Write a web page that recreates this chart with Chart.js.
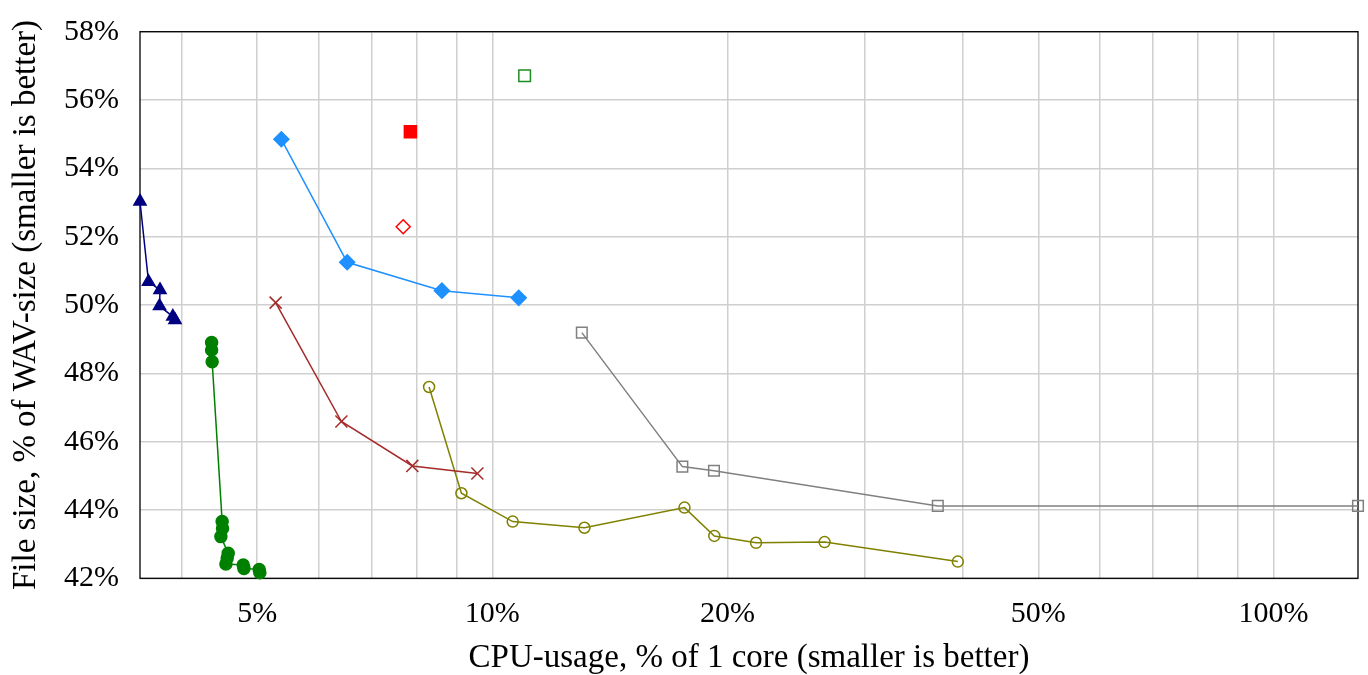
<!DOCTYPE html>
<html><head><meta charset="utf-8">
<script src="https://cdn.jsdelivr.net/npm/chart.js@4/dist/chart.umd.min.js"></script>
<style>html,body{margin:0;padding:0;background:#fff}#wrap{width:1368px;height:675px;position:relative}</style>
</head><body><div id="wrap"><canvas id="c"></canvas></div>
<script>
// CPU usage (% of 1 core) and file size (% of WAV size) per series
const navyCpu  = [3.54, 3.63, 3.755, 3.75, 3.90, 3.925];
const navySize = [53.03, 50.68, 50.44, 49.97, 49.66, 49.56];

const greenCpu  = [4.372, 4.372, 4.379, 4.510, 4.515, 4.493, 4.591, 4.577, 4.560, 4.799, 4.809, 5.030, 5.040];
const greenSize = [48.90, 48.68, 48.34, 43.66, 43.46, 43.22, 42.73, 42.59, 42.42, 42.39, 42.29, 42.26, 42.16];

const blueCpu  = [5.37, 6.52, 8.62, 10.81];
const blueSize = [54.85, 51.25, 50.42, 50.21];

const redSquareCpu  = [7.855];
const redSquareSize = [55.07];

const redDiamondCpu  = [7.69];
const redDiamondSize = [52.29];

const greenSquareCpu  = [11.0];
const greenSquareSize = [56.71];

const brownCpu  = [5.28, 6.41, 7.90, 9.57];
const brownSize = [50.07, 46.59, 45.29, 45.07];

const oliveCpu  = [8.30, 9.13, 10.62, 13.12, 17.62, 19.24, 21.76, 26.63, 39.44];
const oliveSize = [47.60, 44.49, 43.66, 43.48, 44.07, 43.24, 43.04, 43.06, 42.49];

const grayCpu  = [13.02, 17.51, 19.22, 37.18, 128.3];
const graySize = [49.19, 45.27, 45.15, 44.12, 44.12];

const xTickValues = [4, 5, 6, 7, 8, 9, 10, 20, 30, 40, 50, 60, 70, 80, 90, 100];
const xLabelledTicks = [5, 10, 20, 50, 100];
const yMin = 42, yMax = 58, yStep = 2;

function pts(xs, ys) { return xs.map((x, i) => ({x: x, y: ys[i]})); }

const serif = '"Liberation Serif", "Times New Roman", serif';

const frame = {
  id: 'frame',
  beforeDatasetsDraw(chart) {
    const a = chart.chartArea, ctx = chart.ctx;
    ctx.save();
    ctx.strokeStyle = '#000';
    ctx.lineWidth = 1.3;
    ctx.strokeRect(a.left, a.top, a.right - a.left, a.bottom - a.top);
    ctx.restore();
  }
};

function ds(xs, ys, color, style, radius, filled, showLine) {
  return {
    data: pts(xs, ys),
    borderColor: color,
    backgroundColor: color,
    pointBorderColor: color,
    pointBackgroundColor: filled ? color : 'rgba(255,255,255,0)',
    pointStyle: style,
    pointRadius: radius,
    pointHoverRadius: radius,
    pointBorderWidth: 1.5,
    borderWidth: 1.5,
    showLine: showLine,
    clip: false
  };
}

new Chart(document.getElementById('c'), {
  type: 'scatter',
  data: {
    datasets: [
      ds(navyCpu, navySize, '#000080', 'triangle', 7, true, true),
      ds(greenCpu, greenSize, '#008000', 'circle', 6, true, true),
      ds(blueCpu, blueSize, '#1E90FF', 'rectRot', 7.5, true, true),
      ds(redSquareCpu, redSquareSize, '#FF0000', 'rect', 8.5, true, false),
      ds(redDiamondCpu, redDiamondSize, '#FF0000', 'rectRot', 7, false, false),
      ds(greenSquareCpu, greenSquareSize, '#1f8c1f', 'rect', 8.2, false, false),
      ds(brownCpu, brownSize, '#A52A2A', 'crossRot', 8.5, false, true),
      ds(oliveCpu, oliveSize, '#808000', 'circle', 5.5, false, true),
      ds(grayCpu, graySize, '#808080', 'rect', 7.5, false, true)
    ]
  },
  options: {
    responsive: true,
    maintainAspectRatio: false,
    animation: false,
    layout: {padding: {top: 31.7, right: 8.7, left: 0, bottom: 0}},
    plugins: {legend: {display: false}, tooltip: {enabled: false}},
    scales: {
      x: {
        type: 'logarithmic',
        min: 3.54,
        max: 128.3,
        afterBuildTicks(scale) { scale.ticks = xTickValues.map(v => ({value: v})); },
        afterFit(scale) { scale.height = 96.7; scale.paddingLeft = 0; scale.paddingRight = 0; },
        grid: {color: '#cfcfcf', lineWidth: 1.5, drawTicks: false},
        border: {display: false},
        ticks: {
          autoSkip: false,
          maxRotation: 0,
          padding: 18,
          color: '#000',
          font: {family: serif, size: 30},
          callback(v) { return xLabelledTicks.includes(v) ? v + '%' : ''; }
        },
        title: {
          display: true,
          text: 'CPU-usage, % of 1 core (smaller is better)',
          color: '#000',
          font: {family: serif, size: 33, lineHeight: 1.0},
          padding: {top: 0, bottom: 0}
        }
      },
      y: {
        min: yMin,
        max: yMax,
        afterFit(scale) { scale.width = 140; scale.paddingTop = 0; scale.paddingBottom = 0; },
        grid: {color: '#cfcfcf', lineWidth: 1.5, drawTicks: false},
        border: {display: false},
        ticks: {
          stepSize: yStep,
          padding: 21,
          color: '#000',
          font: {family: serif, size: 30},
          callback(v) { return v + '%'; }
        },
        title: {
          display: true,
          text: 'File size, % of WAV-size (smaller is better)',
          color: '#000',
          font: {family: serif, size: 33, lineHeight: 1.2},
          padding: {top: 7, bottom: 0}
        }
      }
    }
  },
  plugins: [frame]
});
</script>
</body></html>
